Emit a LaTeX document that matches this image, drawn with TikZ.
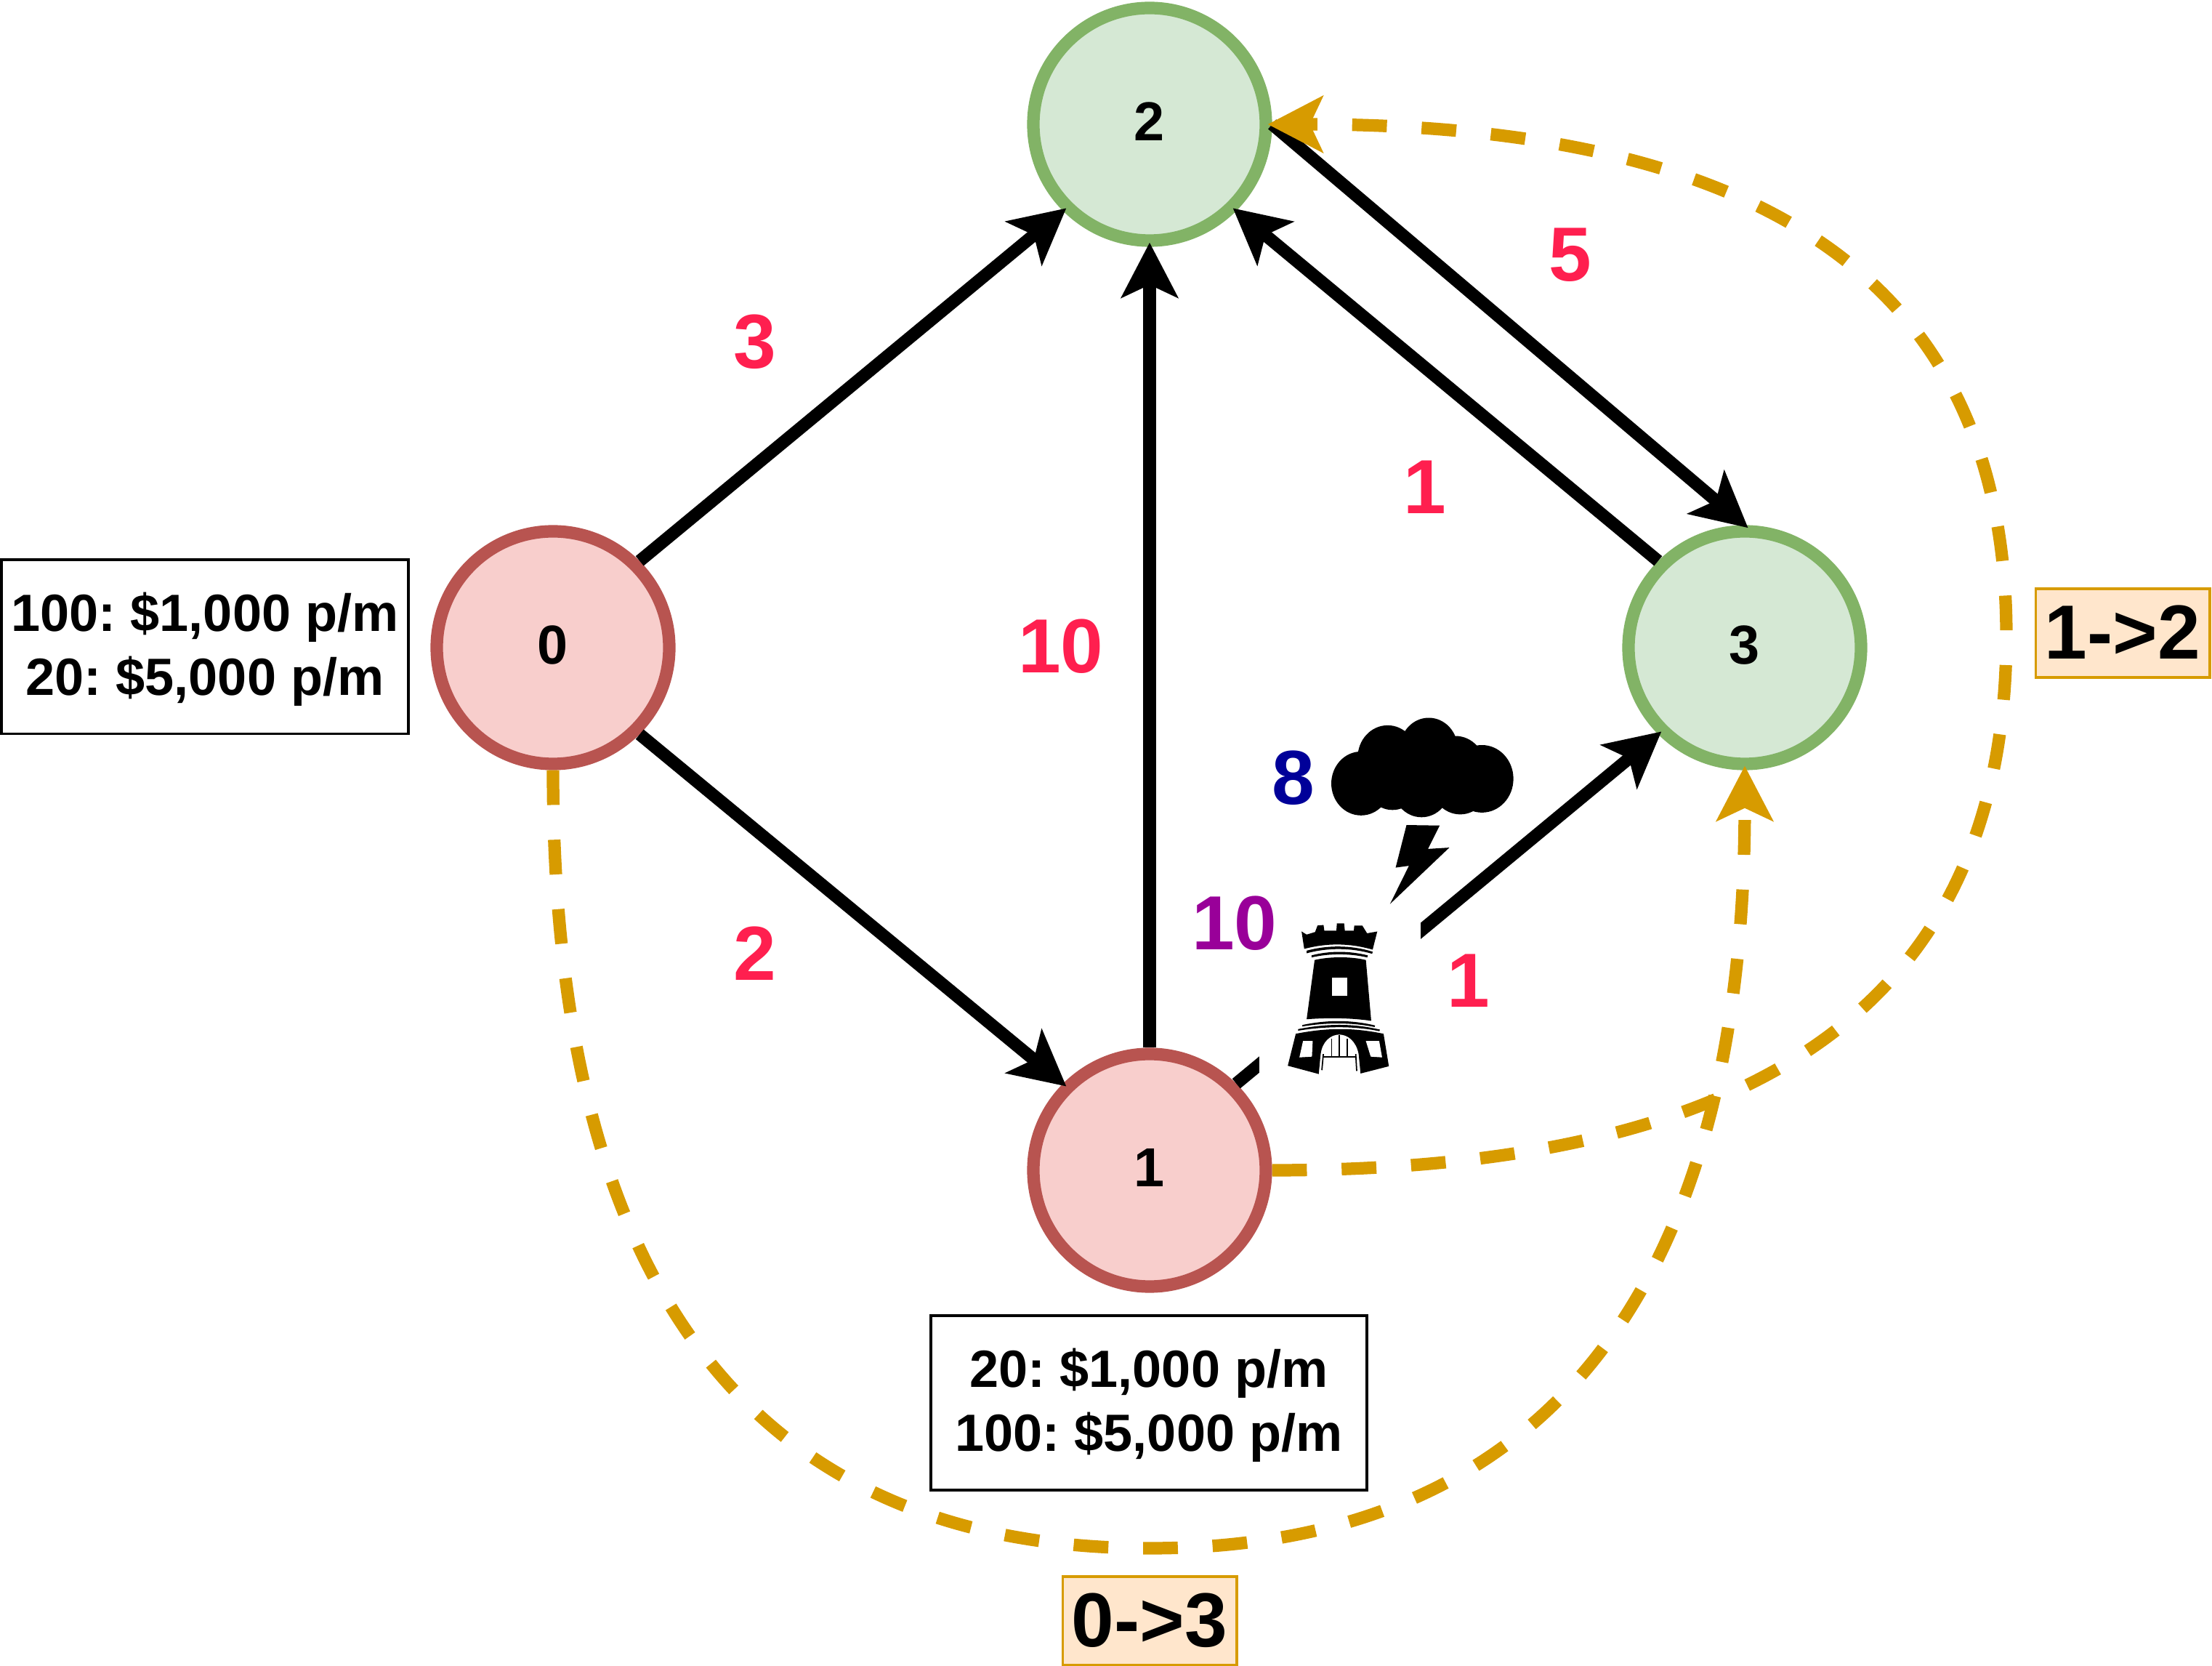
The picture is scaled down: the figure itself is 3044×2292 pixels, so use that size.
\documentclass[tikz,border=0pt]{standalone}
\usepackage{fontspec}
\setmainfont{Liberation Sans}
\usetikzlibrary{arrows.meta}
\definecolor{edgered}{HTML}{FF1F4F}
\definecolor{stormblue}{HTML}{000099}
\definecolor{towerpurple}{HTML}{990099}
\definecolor{routegold}{HTML}{D79B00}
\definecolor{routefill}{HTML}{FFE6CC}
\definecolor{lossfill}{HTML}{F8CECC}
\definecolor{lossdraw}{HTML}{B85450}
\definecolor{safefill}{HTML}{D5E8D4}
\definecolor{safedraw}{HTML}{82B366}

\begin{document}
\begin{tikzpicture}[
        x=0.01cm, y=-0.01cm,
        vertex/.style={draw, circle, line width=4.9pt, minimum size=91pt, inner sep=0pt, text depth=2pt, font=\fontsize{21.5}{24}\selectfont\bfseries},
        price/.style={draw, rectangle, line width=1.1pt, inner sep=0pt, minimum height=68pt, align=center, font=\fontsize{20.5}{25}\selectfont\bfseries\frenchspacing},
        route/.style={draw=routegold, fill=routefill, rectangle, line width=1.1pt, inner sep=0pt, minimum width=68pt, minimum height=34.5pt, text depth=1pt, font=\fontsize{30}{32}\selectfont\bfseries},
        weight/.style={inner sep=0pt, font=\fontsize{30}{32}\selectfont\bfseries},
        arrow/.style={-{Stealth[length=21.5pt, width=22pt, inset=5pt]}, line width=4.9pt, shorten >=-1.7pt},
        dasharrow/.style={-{Stealth[length=21.5pt, width=22pt, inset=5pt]}, draw=routegold, line width=4.9pt, shorten >=-1.7pt, dash pattern=on 13.6pt off 13.6pt}
    ]
        \useasboundingbox (0,0) rectangle (3044,2292);

        % Vertices
        \node[vertex, fill=lossfill, draw=lossdraw] (zero) at (761,891) {0};
        \node[vertex, fill=lossfill, draw=lossdraw] (one) at (1582,1610) {1};
        \node[vertex, fill=safefill, draw=safedraw] (two) at (1582,171) {2};
        \node[vertex, fill=safefill, draw=safedraw] (three) at (2401,891) {3};

        % Price boxes
        \node[price, minimum width=159pt] (pricezero) at (282,890) {\rule{0pt}{17pt}100: \$1,000 p/m\\20: \$5,000 p/m};
        \node[price, minimum width=170.5pt] (priceone) at (1581,1930) {\rule{0pt}{17pt}20: \$1,000 p/m\\100: \$5,000 p/m};

        % Edges
        \draw[arrow] (zero.north east) -- (two.south west);
        \draw[arrow] (zero.south east) -- (one.north west);
        \draw[arrow] (one.north) -- (two.south);
        \draw[arrow] (three.north west) -- (two.south east);
        \draw[arrow] (two.east) -- (three.north);
        \draw[arrow] (one.north east) -- (three.south west);

        % Icon background over the edge
        \node[fill=white, inner sep=0pt, minimum width=63pt, minimum height=101pt] (gap) at (1844,1307) {};

        % Weights
        \node[weight, text=edgered] (w02) at (1039,470) {3};
        \node[weight, text=edgered] (w23) at (2161,351) {5};
        \node[weight, text=edgered] (w32) at (1961,670) {1};
        \node[weight, text=edgered] (w12) at (1460,889) {10};
        \node[weight, text=edgered] (w01) at (1039,1312) {2};
        \node[weight, text=edgered] (w13) at (2021,1349) {1};
        \node[weight, text=stormblue] (storm) at (1780,1070) {8};
        \node[weight, text=towerpurple] (guard) at (1699,1270) {10};

        % Routes
        \coordinate (bendzero) at (1582,2130);
        \coordinate (bendone) at (2761,874);
        \draw[dasharrow] (zero.south) .. controls (761,1786) and (1048,2130) .. (bendzero)
            .. controls (2116,2130) and (2401,1786) .. (three.south);
        \draw[dasharrow] (one.east) .. controls (2368,1610) and (2761,1417) .. (bendone)
            .. controls (2761,388) and (2427,171) .. (two.east);
        \node[route] (routetwo) at (2921,871) {1->2};
        \node[route] (routethree) at (1582,2230) {0->3};

        % Cloud and bolt
        \begin{scope}[shift={(1650,950)}, x=0.003333cm, y=-0.003571cm]
            \fill (670,358) circle [radius=123];
            \fill (780,258) circle [radius=124];
            \fill (950,225) circle [radius=120];
            \fill (1060,300) circle [radius=125];
            \fill (1170,340) circle [radius=130];
            \fill (920,368) circle [radius=120];
            \fill (800,345) circle [radius=115];
            \fill (1080,355) circle [radius=122];
            \fill (858,518) -- (995,520) -- (947,610) -- (1035,605) -- (790,822) -- (868,675) -- (813,682) -- cycle;
        % Tower
            \fill (424,928) -- (445,940) -- (480,930) -- (490,905) -- (515,903) -- (518,925) -- (568,925) -- (570,897)
                -- (600,897) -- (603,925) -- (640,925) -- (642,905) -- (675,905) -- (695,935) -- (737,928)
                -- (718,998) .. controls (620,972) and (530,972) .. (435,995) -- cycle;
            \fill (445,1002) .. controls (530,980) and (630,980) .. (718,1006) -- (716,1014) .. controls (630,990) and (530,990) .. (445,1012) -- cycle;
            \fill (465,1020) .. controls (540,1002) and (620,1002) .. (698,1020) -- (696,1028) .. controls (620,1012) and (540,1012) .. (465,1028) -- cycle;
            \fill (478,1038) .. controls (540,1024) and (630,1024) .. (690,1038) -- (712,1272) .. controls (620,1260) and (530,1260) .. (445,1266) -- cycle;
            \fill[white] (549,1107) rectangle (613,1177);
            \fill (428,1288) .. controls (530,1268) and (630,1268) .. (728,1290) -- (726,1296) .. controls (630,1278) and (530,1278) .. (426,1294) -- cycle;
            \fill (410,1304) .. controls (530,1282) and (640,1282) .. (748,1306) -- (746,1312) .. controls (640,1292) and (530,1292) .. (410,1310) -- cycle;
            \fill (400,1322) .. controls (530,1298) and (640,1298) .. (763,1322) -- (785,1447) -- (668,1475)
                -- (660,1400) .. controls (650,1350) and (615,1325) .. (580,1325) .. controls (545,1325) and (510,1350) .. (503,1400)
                -- (495,1477) -- (367,1445) -- cycle;
            \fill[white] (430,1350) -- (470,1350) -- (467,1410) -- (415,1413) -- cycle;
            \fill[white] (690,1350) -- (745,1350) -- (757,1413) -- (710,1410) -- cycle;
            \draw[line width=0.5pt] (515,1410) -- (650,1410);
            \draw[line width=0.5pt] (548,1342) -- (548,1415);
            \draw[line width=0.5pt] (580,1328) -- (580,1415);
            \draw[line width=0.5pt] (614,1342) -- (614,1415);
            \draw[line width=0.5pt] (514,1400) -- (508,1462);
            \draw[line width=0.5pt] (648,1400) -- (652,1465);
        \end{scope}
    \end{tikzpicture}
\end{document}
